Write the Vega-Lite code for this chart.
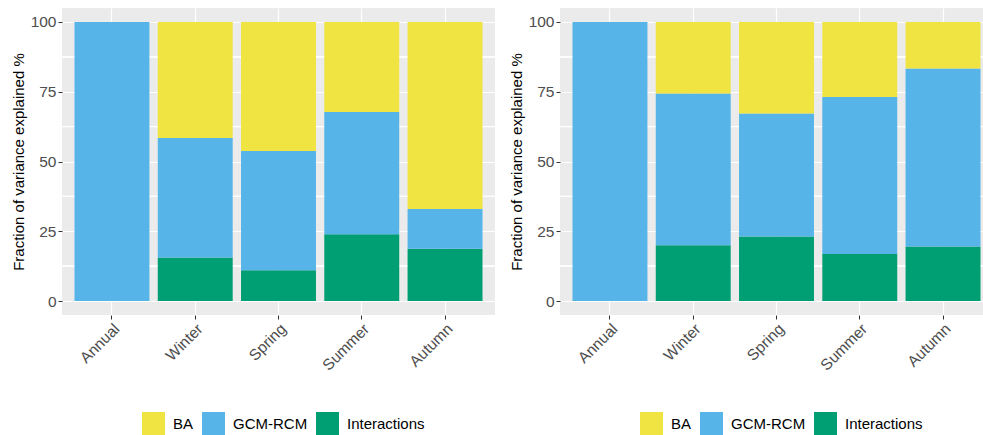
{
  "$schema": "https://vega.github.io/schema/vega-lite/v6.json",
  "padding": {"left": 11, "top": 8, "right": 0, "bottom": 0},
  "bounds": "flush",
  "spacing": 65,
  "config": {
    "font": "Liberation Sans",
    "view": {"fill": "#EBEBEB", "stroke": null},
    "axis": {
      "domain": false,
      "grid": true,
      "gridColor": "#FFFFFF",
      "gridWidth": 1.2,
      "tickColor": "#333333",
      "tickSize": 4,
      "tickWidth": 1,
      "labelColor": "#4D4D4D",
      "labelFontSize": 15.5,
      "labelPadding": 2,
      "titleColor": "#000000",
      "titleFontSize": 15,
      "titleFontWeight": "normal"
    },
    "legend": {
      "orient": "none",
      "legendX": 80,
      "legendY": 404,
      "direction": "horizontal",
      "symbolType": "square",
      "symbolSize": 529,
      "symbolStrokeWidth": 0,
      "labelFontSize": 15,
      "labelColor": "#000000",
      "labelOffset": 8,
      "columnPadding": 8
    }
  },
  "data": {
    "values": [
      {"panel": 1, "season": "Annual", "component": "GCM-RCM", "value": 100},
      {"panel": 1, "season": "Winter", "component": "Interactions", "value": 15.6},
      {"panel": 1, "season": "Winter", "component": "GCM-RCM", "value": 42.8},
      {"panel": 1, "season": "Winter", "component": "BA", "value": 41.6},
      {"panel": 1, "season": "Spring", "component": "Interactions", "value": 11.0},
      {"panel": 1, "season": "Spring", "component": "GCM-RCM", "value": 42.8},
      {"panel": 1, "season": "Spring", "component": "BA", "value": 46.2},
      {"panel": 1, "season": "Summer", "component": "Interactions", "value": 23.9},
      {"panel": 1, "season": "Summer", "component": "GCM-RCM", "value": 43.8},
      {"panel": 1, "season": "Summer", "component": "BA", "value": 32.3},
      {"panel": 1, "season": "Autumn", "component": "Interactions", "value": 18.7},
      {"panel": 1, "season": "Autumn", "component": "GCM-RCM", "value": 14.3},
      {"panel": 1, "season": "Autumn", "component": "BA", "value": 67.0},
      {"panel": 2, "season": "Annual", "component": "GCM-RCM", "value": 100},
      {"panel": 2, "season": "Winter", "component": "Interactions", "value": 20.0},
      {"panel": 2, "season": "Winter", "component": "GCM-RCM", "value": 54.4},
      {"panel": 2, "season": "Winter", "component": "BA", "value": 25.6},
      {"panel": 2, "season": "Spring", "component": "Interactions", "value": 23.1},
      {"panel": 2, "season": "Spring", "component": "GCM-RCM", "value": 44.1},
      {"panel": 2, "season": "Spring", "component": "BA", "value": 32.8},
      {"panel": 2, "season": "Summer", "component": "Interactions", "value": 16.9},
      {"panel": 2, "season": "Summer", "component": "GCM-RCM", "value": 56.2},
      {"panel": 2, "season": "Summer", "component": "BA", "value": 26.9},
      {"panel": 2, "season": "Autumn", "component": "Interactions", "value": 19.5},
      {"panel": 2, "season": "Autumn", "component": "GCM-RCM", "value": 63.8},
      {"panel": 2, "season": "Autumn", "component": "BA", "value": 16.7}
    ]
  },
  "resolve": {"scale": {"color": "independent"}, "legend": {"color": "independent"}},
  "hconcat": [
    {
      "width": 433,
      "height": 307,
      "transform": [{"filter": "datum.panel == 1"}],
      "layer": [
        {"mark": {"type": "rule", "color": "#FFFFFF", "strokeWidth": 0.6}, "encoding": {"y": {"datum": 12.5, "type": "quantitative"}}},
        {"mark": {"type": "rule", "color": "#FFFFFF", "strokeWidth": 0.6}, "encoding": {"y": {"datum": 37.5, "type": "quantitative"}}},
        {"mark": {"type": "rule", "color": "#FFFFFF", "strokeWidth": 0.6}, "encoding": {"y": {"datum": 62.5, "type": "quantitative"}}},
        {"mark": {"type": "rule", "color": "#FFFFFF", "strokeWidth": 0.6}, "encoding": {"y": {"datum": 87.5, "type": "quantitative"}}},
        {
          "mark": {"type": "bar"},
          "encoding": {
            "x": {"field": "season", "type": "nominal", "sort": ["Annual", "Winter", "Spring", "Summer", "Autumn"],
                  "scale": {"paddingInner": 0.1, "paddingOuter": 0.15},
                  "axis": {"title": null, "labelAngle": -45}},
            "y": {"field": "value", "type": "quantitative", "stack": "zero",
                  "scale": {"domain": [-5, 105], "nice": false, "zero": false},
                  "axis": {"title": "Fraction of variance explained %", "values": [0, 25, 50, 75, 100], "titlePadding": 4}},
            "color": {"field": "component", "type": "nominal",
                      "scale": {"domain": ["BA", "GCM-RCM", "Interactions"], "range": ["#F0E442", "#56B4E9", "#009E73"]},
                      "legend": {"title": null}},
            "order": {"field": "component", "sort": "descending"}
          }
        }
      ]
    },
    {
      "width": 433,
      "height": 307,
      "transform": [{"filter": "datum.panel == 2"}],
      "layer": [
        {"mark": {"type": "rule", "color": "#FFFFFF", "strokeWidth": 0.6}, "encoding": {"y": {"datum": 12.5, "type": "quantitative"}}},
        {"mark": {"type": "rule", "color": "#FFFFFF", "strokeWidth": 0.6}, "encoding": {"y": {"datum": 37.5, "type": "quantitative"}}},
        {"mark": {"type": "rule", "color": "#FFFFFF", "strokeWidth": 0.6}, "encoding": {"y": {"datum": 62.5, "type": "quantitative"}}},
        {"mark": {"type": "rule", "color": "#FFFFFF", "strokeWidth": 0.6}, "encoding": {"y": {"datum": 87.5, "type": "quantitative"}}},
        {
          "mark": {"type": "bar"},
          "encoding": {
            "x": {"field": "season", "type": "nominal", "sort": ["Annual", "Winter", "Spring", "Summer", "Autumn"],
                  "scale": {"paddingInner": 0.1, "paddingOuter": 0.15},
                  "axis": {"title": null, "labelAngle": -45}},
            "y": {"field": "value", "type": "quantitative", "stack": "zero",
                  "scale": {"domain": [-5, 105], "nice": false, "zero": false},
                  "axis": {"title": "Fraction of variance explained %", "values": [0, 25, 50, 75, 100], "titlePadding": 4}},
            "color": {"field": "component", "type": "nominal",
                      "scale": {"domain": ["BA", "GCM-RCM", "Interactions"], "range": ["#F0E442", "#56B4E9", "#009E73"]},
                      "legend": {"title": null}},
            "order": {"field": "component", "sort": "descending"}
          }
        }
      ]
    }
  ]
}
